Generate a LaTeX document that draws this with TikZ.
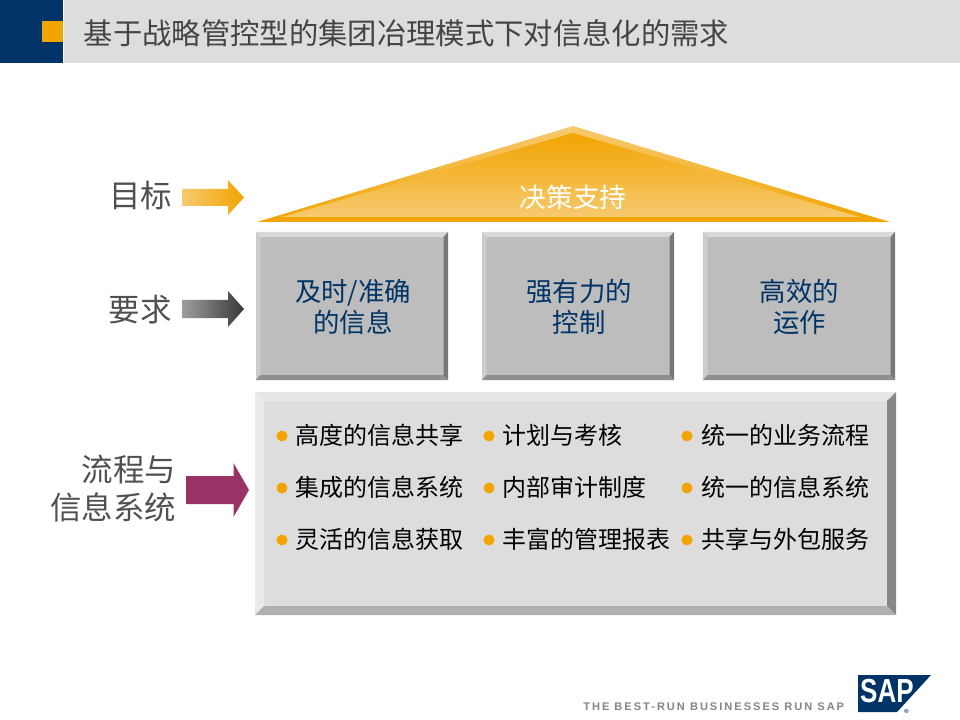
\documentclass[tikz,border=0pt]{standalone}
\usepackage{fontspec}
\setmainfont{Noto Sans CJK SC}
\newfontfamily\latinbold[LetterSpace=18]{Liberation Sans}
\newfontfamily\logobold{Liberation Sans}
\definecolor{navy}{HTML}{003366}
\definecolor{gold}{HTML}{F2A400}
\definecolor{goldlight}{HTML}{F6CA70}
\definecolor{barGray}{HTML}{DDDDDD}
\definecolor{labelGray}{HTML}{505050}
\definecolor{plum}{HTML}{993366}
\tikzset{
  sidelabel/.style={text=labelGray,font=\fontsize{23.6}{28.5}\selectfont,align=center,inner sep=0pt},
  boxlabel/.style={text=navy,font=\fontsize{19.8}{23.5}\selectfont,align=center,inner sep=0pt},
  itemlabel/.style={text=black,font=\fontsize{18}{20}\selectfont,anchor=west,inner sep=0pt},
  bulletdot/.style={circle,fill=gold,minimum size=8.25pt,inner sep=0pt},
}
\begin{document}
\begin{tikzpicture}[x=0.75pt,y=-0.75pt]
\useasboundingbox (0,0) rectangle (960,720);
% header
\fill[barGray] (64,0) rectangle (960,63);
\fill[navy] (0,0) rectangle (63,63);
\fill[gold] (42,21) rectangle (63,42);
\node[anchor=west,inner sep=0pt,text=labelGray!85!black,font=\fontsize{22}{26}\selectfont] (title) at (83.5,33) {基于战略管控型的集团冶理模式下对信息化的需求};
% roof
\path[top color=goldlight,bottom color=gold] (573,126) -- (890,222) -- (257,222) -- cycle;
\path[top color=gold,bottom color=goldlight] (573,133) -- (860,217) -- (282,217) -- cycle;
\node[text=white,inner sep=0pt,font=\fontsize{20}{24}\selectfont] (roof) at (573,197) {决策支持};
% side arrows
\path[left color=goldlight,right color=gold] (182,189) -- (228,189) -- (228,180) -- (244,197.5) -- (228,215) -- (228,206) -- (182,206) -- cycle;
\path[left color=black!38,right color=black!78] (182,300) -- (228,300) -- (228,291) -- (244,309) -- (228,327) -- (228,318) -- (182,318) -- cycle;
\fill[plum] (186,476) -- (233.5,476) -- (233.5,463) -- (249,490) -- (233.5,517) -- (233.5,504) -- (186,504) -- cycle;
\node[sidelabel,anchor=east] (goal) at (172.5,196) {目标};
\node[sidelabel,anchor=east] (req) at (172,310) {要求};
\node[sidelabel,anchor=east,align=right] (proc) at (176.5,489) {流程与\\信息系统};
% three boxes
\foreach \a/\b in {256/448,482/674,703/895}{
  \fill[black!26] (\a,232) rectangle (\b,380);
  \fill[black!15] (\a,232) -- (\b,232) -- (\b-4.5,237) -- (\a+4.5,237) -- cycle;
  \fill[black!20] (\a,232) -- (\a+4.5,237) -- (\a+4.5,375) -- (\a,380) -- cycle;
  \fill[black!53] (\b,232) -- (\b,380) -- (\b-4.5,375) -- (\b-4.5,237) -- cycle;
  \fill[black!44] (\a,380) -- (\b,380) -- (\b-4.5,375) -- (\a+4.5,375) -- cycle;
}
\node[boxlabel] (b1) at (353,307) {及时/准确\\的信息};
\node[boxlabel] (b2) at (579,307) {强有力的\\控制};
\node[boxlabel] (b3) at (799.5,307) {高效的\\运作};
% large box
\fill[barGray] (255,392) rectangle (896,615);
\fill[black!10] (255,392) -- (896,392) -- (887,401) -- (264,401) -- cycle;
\fill[black!8] (255,392) -- (264,401) -- (264,606) -- (255,615) -- cycle;
\fill[black!47] (896,392) -- (896,615) -- (887,606) -- (887,401) -- cycle;
\fill[black!31] (255,615) -- (896,615) -- (887,606) -- (264,606) -- cycle;
% items
\foreach \dx/\dy in {282/436,489/436,687/436,282/488,489/488,687/488,282/540,489/540,687/540}{
  \node[bulletdot] at (\dx,\dy) {};
}
\node[itemlabel] (i11) at (295.5,435) {高度的信息共享};
\node[itemlabel] (i21) at (295.5,487) {集成的信息系统};
\node[itemlabel] (i31) at (295.5,539) {灵活的信息获取};
\node[itemlabel] (i12) at (502.5,435) {计划与考核};
\node[itemlabel] (i22) at (502.5,487) {内部审计制度};
\node[itemlabel] (i32) at (502.5,539) {丰富的管理报表};
\node[itemlabel] (i13) at (701,435) {统一的业务流程};
\node[itemlabel] (i23) at (701,487) {统一的信息系统};
\node[itemlabel] (i33) at (701,539) {共享与外包服务};
% footer
\node[anchor=west,inner sep=0pt,text=black!48,font=\latinbold\bfseries\fontsize{8.3}{10}\selectfont] (tag) at (583,707) {THE BEST-RUN BUSINESSES RUN SAP};
\fill[navy] (858,675) -- (931,675) -- (897,712) -- (858,712) -- cycle;
\node[text=white,inner sep=0pt,anchor=west,xscale=0.78,font=\logobold\bfseries\fontsize{25}{28}\selectfont] (sap) at (860,691) {SAP};
\node[text=navy,inner sep=0pt,font=\logobold\bfseries\fontsize{4.5}{6}\selectfont] (reg) at (906.5,711) {®};
\end{tikzpicture}
\end{document}
